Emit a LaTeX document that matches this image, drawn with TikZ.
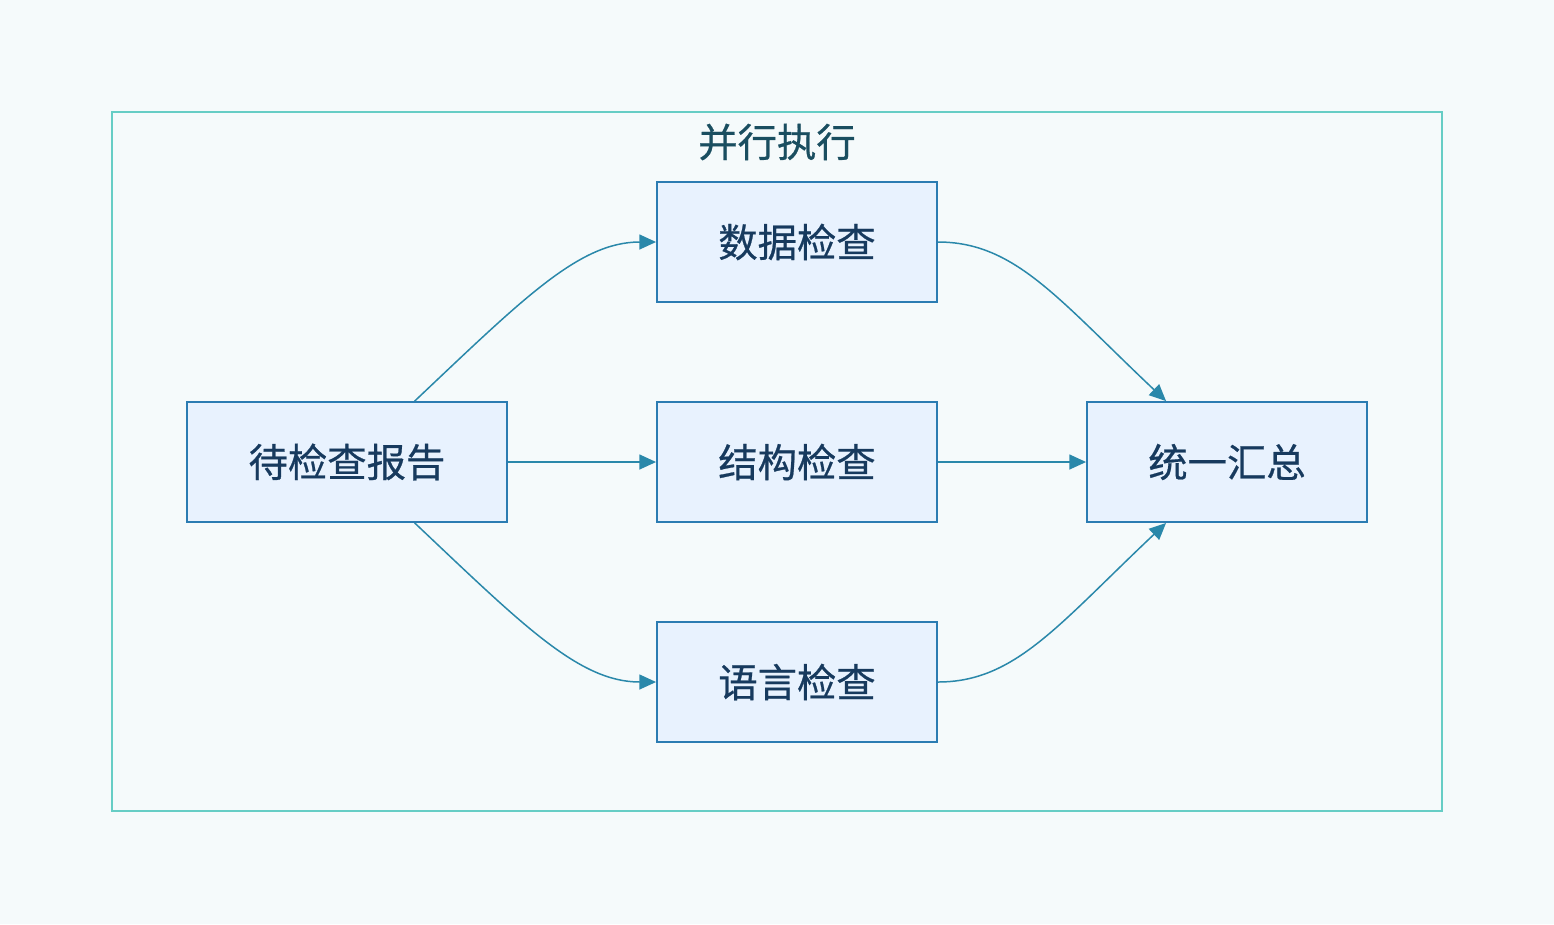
\documentclass[tikz,border=0pt]{standalone}
\usepackage{fontspec}
\setmainfont{Noto Sans CJK SC}
\usetikzlibrary{arrows.meta}
\definecolor{bgcol}{HTML}{F5FAFB}
\definecolor{boxfill}{HTML}{E8F2FE}
\definecolor{boxline}{HTML}{2B7CB2}
\definecolor{txtcol}{HTML}{173A5E}
\definecolor{flowcol}{HTML}{2A88AA}
\definecolor{groupline}{HTML}{66CDC5}
\definecolor{grouptxt}{HTML}{1A4E60}
\newcommand{\lblfont}{\fontsize{22.4}{27}\selectfont\addfontfeature{FakeBold=0.6}}

\begin{document}
\begin{tikzpicture}[x=0.02cm,y=-0.02cm,
  box/.style={draw=boxline,fill=boxfill,line width=1.1pt,text=txtcol,
    minimum width=5.6cm,minimum height=2.4cm,inner sep=0pt,font=\lblfont},
  flow/.style={draw=flowcol,line width=0.85pt,-{Triangle[length=9.5pt,width=8.5pt]}}]
\fill[bgcol] (0,0) rectangle (1554,924); % background
\useasboundingbox (0,0) rectangle (1554,924);
\draw[groupline,line width=1.1pt] (112,112) rectangle (1442,811); % group
\node[text=grouptxt,font=\lblfont] (grouptitle) at (777,142) {并行执行};
\node[box,minimum width=6.4cm] (report) at (347,462) {待检查报告};
\node[box] (datacheck) at (797,242) {数据检查};
\node[box] (structcheck) at (797,462) {结构检查};
\node[box] (langcheck) at (797,682) {语言检查};
\node[box] (summary) at (1227,462) {统一汇总};
% fan out
\draw[flow] (report.42.7) .. controls +(108,-102) and +(-77,0) .. (datacheck.west);
\draw[flow] (report.east) -- (structcheck.west);
\draw[flow] (report.-42.7) .. controls +(108,102) and +(-77,0) .. (langcheck.west);
% gather
\draw[flow] (datacheck.east) .. controls +(77,0) and +(-108,-102) .. (summary.135);
\draw[flow] (structcheck.east) -- (summary.west);
\draw[flow] (langcheck.east) .. controls +(77,0) and +(-108,102) .. (summary.-135);
\end{tikzpicture}
\end{document}
